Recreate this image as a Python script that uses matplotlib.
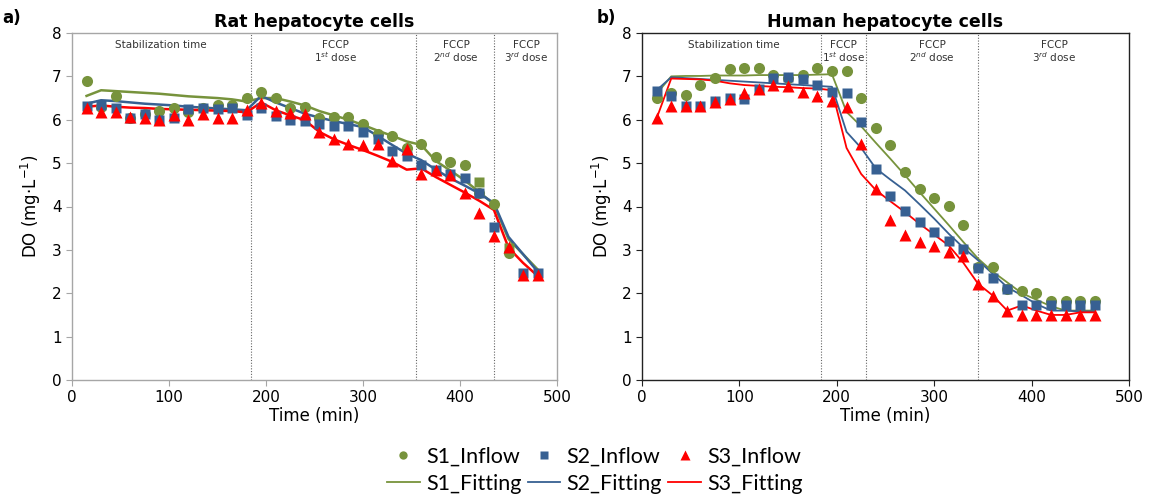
import numpy as np
import matplotlib
matplotlib.use("Agg")
import matplotlib.pyplot as plt
from matplotlib.lines import Line2D

# ---- data ----
nan = np.nan

# rat hepatocytes (panel a)
t_rat = np.arange(15, 481, 15)
rat_s1_in = [6.9, 6.3, 6.55, 6.05, 6.14, 6.2, 6.27, 6.18, 6.26, 6.35, 6.35, 6.5, 6.65, 6.49,
             6.28, 6.3, 6.05, 6.07, 6.07, 5.91, 5.68, 5.63, 5.34, 5.45, 5.15, 5.03, 4.95, 4.3,
             4.05, 2.92, nan, nan]
rat_s2_in = [6.32, 6.35, 6.28, 6.05, 6.14, 6.0, 6.05, 6.24, 6.26, 6.24, 6.26, 6.1, 6.28, 6.08,
             6.0, 5.97, 5.91, 5.85, 5.85, 5.72, 5.55, 5.28, 5.17, 4.95, 4.85, 4.75, 4.65, 4.3,
             3.53, nan, 2.46, 2.46]
rat_s3_in = [6.28, 6.17, 6.17, 6.07, 6.05, 6.0, 6.1, 6.0, 6.14, 6.03, 6.03, 6.22, 6.39, 6.2,
             6.16, 6.13, 5.72, 5.55, 5.45, 5.41, 5.45, 5.05, 5.32, 4.76, 4.84, 4.73, 4.32, 3.84,
             3.32, 3.06, 2.43, 2.43]
# odd square-shaped S1 markers in the original
rat_s1_extra_t = [420, 450]
rat_s1_extra = [4.57, 3.05]

rat_s1_fit = [6.55, 6.68, 6.66, 6.64, 6.62, 6.6, 6.57, 6.54, 6.52, 6.5, 6.47, 6.42, 6.5, 6.5,
              6.42, 6.33, 6.2, 6.1, 6.0, 5.88, 5.75, 5.63, 5.5, 5.42, 5.05, 4.83, 4.6, 4.33,
              4.05, 3.25, 2.9, 2.55]
rat_s2_fit = [6.37, 6.45, 6.43, 6.4, 6.37, 6.35, 6.33, 6.3, 6.28, 6.26, 6.24, 6.22, 6.55, 6.4,
              6.27, 6.14, 6.05, 5.97, 5.9, 5.83, 5.63, 5.42, 5.22, 5.07, 4.85, 4.65, 4.48, 4.3,
              4.08, 3.3, 2.9, 2.5]
rat_s3_fit = [6.3, 6.33, 6.3, 6.28, 6.27, 6.25, 6.24, 6.23, 6.22, 6.21, 6.2, 6.17, 6.4, 6.22,
              6.1, 5.99, 5.72, 5.55, 5.42, 5.3, 5.17, 5.03, 4.85, 4.88, 4.68, 4.5, 4.32, 4.13,
              3.92, 3.05, 2.7, 2.4]

# human hepatocytes (panel b)
t_hum = np.arange(15, 466, 15)
hum_s1_in = [6.5, 6.62, 6.58, 6.8, 6.97, 7.16, 7.2, 7.2, 7.03, 6.97, 7.03, 7.2, 7.12, 7.12,
             6.49, 5.81, 5.41, 4.79, 4.4, 4.2, 4.02, 3.58, 2.6, 2.6, 2.1, 2.06, 2.01, 1.83,
             1.83, 1.83, 1.83]
hum_s2_in = [6.67, 6.55, 6.31, 6.31, 6.43, 6.51, 6.47, 6.7, 6.97, 6.99, 6.94, 6.8, 6.64, 6.62,
             5.95, 4.87, 4.24, 3.9, 3.64, 3.42, 3.2, 3.01, 2.59, 2.36, 2.1, 1.72, 1.72, 1.72,
             1.72, 1.72, 1.72]
hum_s3_in = [6.03, 6.31, 6.31, 6.31, 6.41, 6.47, 6.62, 6.7, 6.8, 6.77, 6.63, 6.55, 6.43, 6.3,
             5.45, 4.41, 3.68, 3.35, 3.19, 3.08, 2.95, 2.86, 2.22, 1.93, 1.59, 1.5, 1.49, 1.49,
             1.49, 1.49, 1.49]

hum_s1_fit = [6.6, 7.0, 7.01, 7.01, 7.02, 7.02, 7.02, 7.03, 7.03, 7.03, 7.03, 7.04, 7.05, 6.18,
              5.85, 5.47, 5.1, 4.72, 4.33, 3.95, 3.57, 3.18, 2.8, 2.5, 2.25, 2.0, 1.85, 1.7,
              1.6, 1.6, 1.6]
hum_s2_fit = [6.68, 6.98, 6.96, 6.94, 6.92, 6.9, 6.88, 6.86, 6.84, 6.82, 6.8, 6.78, 6.76, 5.72,
              5.35, 4.88, 4.62, 4.37, 4.05, 3.72, 3.37, 3.05, 2.76, 2.45, 2.14, 1.95, 1.75, 1.6,
              1.6, 1.58, 1.58]
hum_s3_fit = [6.03, 6.95, 6.94, 6.93, 6.9, 6.84, 6.8, 6.78, 6.76, 6.75, 6.73, 6.72, 6.68, 5.35,
              4.75, 4.38, 4.12, 3.87, 3.6, 3.35, 3.1, 2.7, 2.22, 1.95, 1.6, 1.72, 1.6, 1.5,
              1.5, 1.56, 1.56]

rat_doses = [185, 355, 435]
hum_doses = [184, 230, 345]

rat_labels = [(92, "Stabilization time"), (272, "FCCP\n1$^{st}$ dose"),
              (396, "FCCP\n2$^{nd}$ dose"), (468, "FCCP\n3$^{rd}$ dose")]
hum_labels = [(94, "Stabilization time"), (207, "FCCP\n1$^{st}$ dose"),
              (298, "FCCP\n2$^{nd}$ dose"), (423, "FCCP\n3$^{rd}$ dose")]

GREEN = "#77933C"
BLUE = "#376092"
RED = "#FF0000"

fig = plt.figure(figsize=(11.53, 4.99), dpi=100)
ax1 = fig.add_axes([72 / 1153, 1 - 380 / 499, 485 / 1153, 347 / 499])
ax2 = fig.add_axes([642 / 1153, 1 - 380 / 499, 487 / 1153, 347 / 499])


def draw(ax, t, s1, s2, s3, f1, f2, f3, doses, labels, lw, spine_col):
    ax.plot(t, f1, color=GREEN, lw=lw, zorder=2)
    ax.plot(t, f2, color=BLUE, lw=lw, zorder=2)
    ax.plot(t, f3, color=RED, lw=lw, zorder=2)
    ax.plot(t, s1, "o", color=GREEN, ms=8, mec="none", zorder=3)
    ax.plot(t, s2, "s", color=BLUE, ms=7.5, mec="none", zorder=4)
    ax.plot(t, s3, "^", color=RED, ms=8, mec="none", zorder=5)
    for d in doses:
        ax.axvline(d, color="#666666", lw=0.8, ls=(0, (1, 1.5)), zorder=1)
    for x, s in labels:
        ax.text(x, 7.85, s, ha="center", va="top", fontsize=7.5, color="#333333",
                linespacing=1.1)
    ax.set_xlim(0, 500)
    ax.set_ylim(0, 8)
    ax.set_xticks(range(0, 501, 100))
    ax.set_yticks(range(0, 9))
    ax.tick_params(labelsize=11, direction="out", length=4, width=0.8, color=spine_col)
    for sp in ax.spines.values():
        sp.set_color(spine_col)
        sp.set_linewidth(1.0)
    ax.set_xlabel("Time (min)", fontsize=12, labelpad=1)
    ax.set_ylabel("DO (mg·L$^{-1}$)", fontsize=12, labelpad=6)


draw(ax1, t_rat, rat_s1_in, rat_s2_in, rat_s3_in, rat_s1_fit, rat_s2_fit, rat_s3_fit,
     rat_doses, rat_labels, 1.8, "#A6A6A6")
ax1.plot(rat_s1_extra_t, rat_s1_extra, "s", color=GREEN, ms=7.5, mec="none", zorder=3.5)
draw(ax2, t_hum, hum_s1_in, hum_s2_in, hum_s3_in, hum_s1_fit, hum_s2_fit, hum_s3_fit,
     hum_doses, hum_labels, 1.3, "#222222")

ax1.set_title("Rat hepatocyte cells", fontsize=12.5, fontweight="bold", pad=4)
ax2.set_title("Human hepatocyte cells", fontsize=12.5, fontweight="bold", pad=4)
fig.text(2 / 1153, 1 - 18 / 499, "a)", fontsize=12, fontweight="bold", va="center")
fig.text(597 / 1153, 1 - 18 / 499, "b)", fontsize=12, fontweight="bold", va="center")

handles = [
    Line2D([], [], ls="none", marker="o", color=GREEN, ms=6, mec="none", label="S1_Inflow"),
    Line2D([], [], color=GREEN, lw=1.3, label="S1_Fitting"),
    Line2D([], [], ls="none", marker="s", color=BLUE, ms=6, mec="none", label="S2_Inflow"),
    Line2D([], [], color=BLUE, lw=1.3, label="S2_Fitting"),
    Line2D([], [], ls="none", marker="^", color=RED, ms=6.5, mec="none", label="S3_Inflow"),
    Line2D([], [], color=RED, lw=1.3, label="S3_Fitting"),
]
fig.legend(handles=handles, ncol=3, loc="center", bbox_to_anchor=(595 / 1153, 1 - 470 / 499),
           frameon=False, prop={"family": "Lato", "size": 15.5}, handlelength=1.5,
           handletextpad=0.3, columnspacing=0.3, labelspacing=0.35)

fig.savefig("out.png", dpi=100)
